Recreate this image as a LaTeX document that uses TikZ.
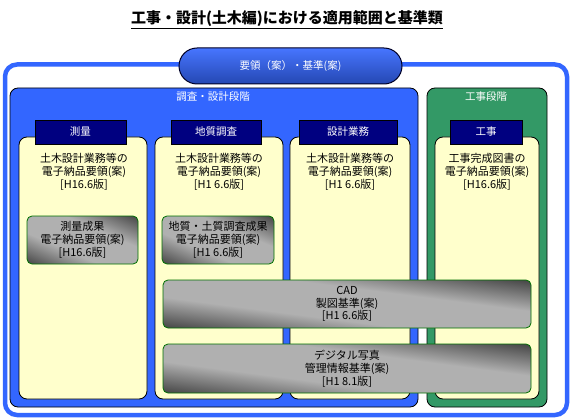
\documentclass[tikz,border=0pt]{standalone}
\usepackage{fontspec}
\setmainfont{Noto Sans CJK JP}
\usetikzlibrary{positioning, shadings}

\definecolor{phaseblue}{HTML}{3366FF}
\definecolor{phasegreen}{HTML}{339966}
\definecolor{colyellow}{HTML}{FFFFCC}
\definecolor{tabnavy}{HTML}{000080}
\definecolor{boxgreen}{HTML}{007000}

% light band along one diagonal, dark towards the other two corners
\pgfdeclarefunctionalshading{steel}{\pgfpoint{-50bp}{-50bp}}{\pgfpoint{50bp}{50bp}}{}{
    add abs 50 div 0.35 sub dup 0 lt {pop 0} if dup 0.65 gt {pop 0.65} if
    0.65 div 0.42 mul 0.69 exch sub dup dup}

\begin{document}
\begin{tikzpicture}[x=1pt, y=-1pt,
    phase/.style={draw=black, line width=0.8pt, rounded corners=8pt, anchor=north west,
        inner sep=0pt, outer sep=0pt},
    phaselabel/.style={font=\fontsize{10.5}{12}\selectfont, text=white},
    column/.style={draw=black, line width=0.8pt, fill=colyellow, rounded corners=8pt,
        anchor=north west, inner sep=0pt, outer sep=0pt},
    tabbox/.style={draw=black, line width=0.6pt, fill=tabnavy, anchor=north west,
        minimum height=24pt, inner sep=0pt, outer sep=0pt,
        font=\fontsize{10.5}{12}\selectfont, text=white},
    coltext/.style={font=\fontsize{11}{12.8}\selectfont, align=center},
    stdbox/.style={draw=boxgreen, line width=0.8pt, rounded corners=5pt, anchor=north west,
        shading=steel,
        inner sep=0pt, outer sep=0pt, align=center, font=\fontsize{11}{12.8}\selectfont}
]
\useasboundingbox (0,0) rectangle (574,420);

% Title
\node[font=\fontsize{15}{18}\selectfont\bfseries] (title) at (287,20)
    {\underline{工事・設計(土木編)における適用範囲と基準類}};

% Outer frame and heading
\draw[line width=4.5pt, draw=phaseblue, rounded corners=12pt] (5,64.5) rectangle (567,415);
\node[draw=black!85!blue, line width=1pt, rounded corners=18pt, minimum width=223pt,
    minimum height=36pt, top color=phaseblue!90!white, bottom color=phaseblue!70!black,
    text=white, font=\fontsize{10.5}{12}\selectfont] (heading) at (290.5,66)
    {要領（案）・基準(案)};

% Phases
\node[phase, fill=phaseblue, minimum width=408pt, minimum height=319pt] (survey) at (10,88) {};
\node[phase, fill=phasegreen, minimum width=120pt, minimum height=319pt] (construct) at (427,88) {};
\node[phaselabel] (surveylbl) at (213,97) {調査・設計段階};
\node[phaselabel] (constructlbl) at (486,97) {工事段階};

% Columns
\node[column, minimum width=128pt, minimum height=262pt] (c1) at (19,137) {};
\node[column, minimum width=128pt, minimum height=262pt] (c2) at (155,137) {};
\node[column, minimum width=120pt, minimum height=262pt] (c3) at (290,137) {};
\node[column, minimum width=104pt, minimum height=262pt] (c4) at (435,137) {};

\node[tabbox, minimum width=91pt] (t1) at (35,120) {測量};
\node[tabbox, minimum width=90pt] (t2) at (171,120) {地質調査};
\node[tabbox, minimum width=98pt] (t3) at (299,120) {設計業務};
\node[tabbox, minimum width=72pt] (t4) at (450,120) {工事};

\node[coltext] (e1) at (84,172) {土木設計業務等の\\電子納品要領(案)\\{[H16.6版]}};
\node[coltext] (e2) at (219,172) {土木設計業務等の\\電子納品要領(案)\\{[H1 6.6版]}};
\node[coltext] (e3) at (350,172) {土木設計業務等の\\電子納品要領(案)\\{[H1 6.6版]}};
\node[coltext] (e4) at (487,172) {工事完成図書の\\電子納品要領(案)\\{[H16.6版]}};

% Standards
\node[stdbox, minimum width=111pt, minimum height=48pt] (g1) at (27,216)
    {測量成果\\電子納品要領(案)\\{[H16.6版]}};
\node[stdbox, minimum width=112pt, minimum height=48pt] (g2) at (162,216)
    {地質・土質調査成果\\電子納品要領(案)\\{[H1 6.6版]}};
\node[stdbox, minimum width=368pt, minimum height=48pt] (cad) at (163,280)
    {CAD\\製図基準(案)\\{[H1 6.6版]}};
\node[stdbox, minimum width=368pt, minimum height=49pt] (photo) at (163,344)
    {デジタル写真\\管理情報基準(案)\\{[H1 8.1版]}};

\end{tikzpicture}
\end{document}
